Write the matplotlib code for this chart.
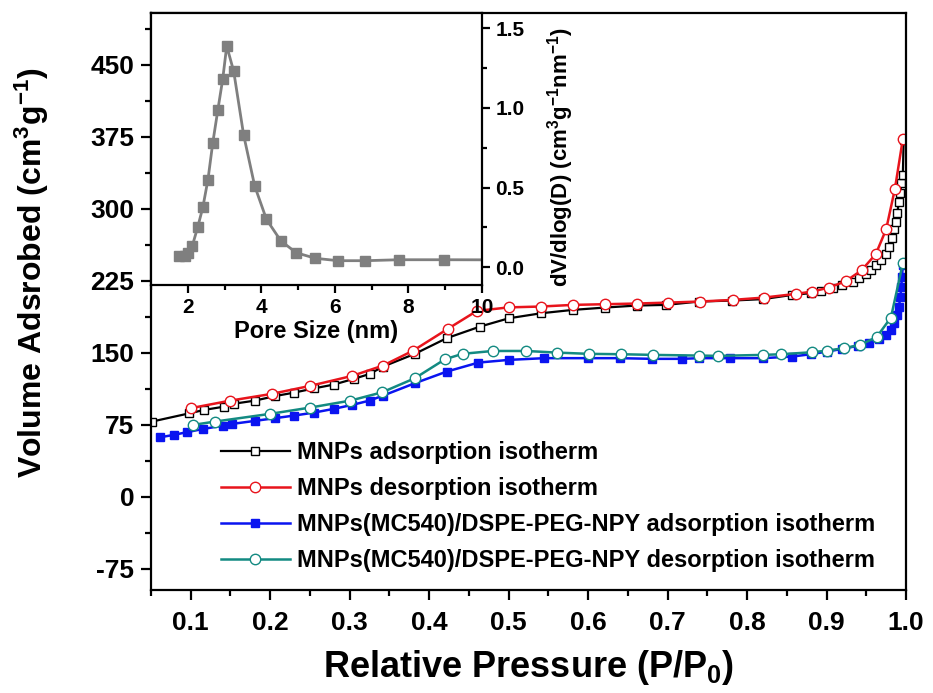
import matplotlib
matplotlib.use("Agg")
import matplotlib.pyplot as plt
from matplotlib.ticker import MultipleLocator

plt.rcParams['font.family'] = ['Liberation Sans', 'DejaVu Sans']
plt.rcParams['font.weight'] = 'bold'
plt.rcParams['mathtext.fontset'] = 'custom'
plt.rcParams['mathtext.rm'] = 'Liberation Sans:bold'
plt.rcParams['mathtext.it'] = 'Liberation Sans:bold'
plt.rcParams['mathtext.bf'] = 'Liberation Sans:bold'
plt.rcParams['mathtext.default'] = 'rm'
plt.rcParams['axes.linewidth'] = 1.6
plt.rcParams['axes.unicode_minus'] = False

# MNPs adsorption / desorption
mnp_ads_p = [0.051, 0.098, 0.117, 0.142, 0.154, 0.181, 0.206, 0.230, 0.255, 0.280,
             0.305, 0.325, 0.342, 0.382, 0.422, 0.464, 0.500, 0.541, 0.581, 0.621,
             0.661, 0.698, 0.740, 0.781, 0.820, 0.857, 0.880, 0.893, 0.908, 0.920,
             0.933, 0.941, 0.950, 0.956, 0.962, 0.968, 0.975, 0.978, 0.982, 0.985,
             0.988, 0.989, 0.991, 0.993, 0.994, 0.996, 0.997]
mnp_ads_v = [78.4, 87.0, 90.6, 94.0, 97.0, 100.3, 105.0, 108.6, 113.0, 117.0,
             122.9, 128.0, 135.7, 149.0, 165.3, 177.4, 186.0, 191.3, 194.8, 197.2,
             199.3, 200.0, 203.5, 204.5, 206.0, 210.4, 212.2, 214.6, 217.4, 220.8,
             224.3, 227.8, 232.3, 236.5, 241.7, 246.9, 253.0, 260.8, 269.4, 278.8,
             286.8, 295.5, 307.6, 316.3, 326.8, 335.4, 372.0]
mnp_des_p = [0.100, 0.150, 0.202, 0.250, 0.303, 0.342, 0.380, 0.424, 0.460, 0.500,
             0.541, 0.581, 0.621, 0.661, 0.701, 0.741, 0.782, 0.821, 0.862, 0.882,
             0.903, 0.924, 0.944, 0.962, 0.975, 0.986, 0.996]
mnp_des_v = [92.4, 100.3, 107.3, 115.6, 126.0, 136.8, 152.4, 175.3, 193.7, 197.4,
             198.3, 200.0, 200.7, 201.4, 202.4, 203.5, 205.2, 207.6, 211.5, 213.9,
             218.0, 224.6, 236.0, 253.0, 278.8, 320.8, 372.9]

# MNPs(MC540)/DSPE-PEG-NPY adsorption / desorption
npy_ads_p = [0.062, 0.079, 0.095, 0.116, 0.141, 0.152, 0.181, 0.206, 0.230, 0.255,
             0.280, 0.303, 0.325, 0.342, 0.382, 0.422, 0.462, 0.500, 0.545, 0.600,
             0.640, 0.680, 0.718, 0.740, 0.778, 0.820, 0.857, 0.880, 0.901, 0.920,
             0.939, 0.954, 0.966, 0.975, 0.981, 0.985, 0.989, 0.991, 0.993, 0.994,
             0.995, 0.996]
npy_ads_v = [62.2, 64.6, 67.4, 70.8, 74.3, 76.0, 79.2, 82.0, 84.7, 87.8,
             91.7, 95.8, 100.3, 105.5, 118.4, 130.5, 139.9, 142.7, 144.5, 144.5,
             144.5, 143.8, 143.8, 144.5, 144.5, 144.5, 146.2, 148.6, 151.4, 154.2,
             157.3, 160.1, 164.3, 168.8, 174.0, 181.0, 189.6, 198.2, 208.6, 219.0,
             229.5, 241.7]
npy_des_p = [0.103, 0.131, 0.200, 0.250, 0.301, 0.341, 0.382, 0.420, 0.442, 0.480,
             0.522, 0.561, 0.601, 0.642, 0.682, 0.740, 0.763, 0.820, 0.843, 0.882,
             0.901, 0.922, 0.942, 0.963, 0.981, 0.996]
npy_des_v = [75.0, 78.5, 86.5, 93.0, 100.3, 109.0, 123.6, 143.4, 149.0, 152.0,
             152.0, 150.3, 149.0, 148.6, 147.9, 147.2, 146.9, 147.9, 148.6, 150.7,
             152.4, 154.9, 158.3, 166.4, 186.8, 243.4]

# pore size distribution (inset)
pore_size = [1.77, 1.92, 2.02, 2.12, 2.27, 2.41, 2.55, 2.68, 2.82, 2.95, 3.06, 3.25,
             3.52, 3.82, 4.14, 4.53, 4.95, 5.47, 6.09, 6.83, 7.74, 8.97, 11.0]
pore_dv = [0.07, 0.07, 0.09, 0.13, 0.25, 0.375, 0.55, 0.78, 0.99, 1.18, 1.39, 1.23,
           0.83, 0.51, 0.30, 0.165, 0.09, 0.055, 0.04, 0.04, 0.046, 0.046, 0.045]

labels = ['MNPs adsorption isotherm', 'MNPs desorption isotherm',
          'MNPs(MC540)/DSPE-PEG-NPY adsorption isotherm',
          'MNPs(MC540)/DSPE-PEG-NPY desorption isotherm']
x_ticks = [0.1, 0.2, 0.3, 0.4, 0.5, 0.6, 0.7, 0.8, 0.9, 1.0]
inset_yticks = [0.0, 0.5, 1.0, 1.5]

fig = plt.figure(figsize=(9.33, 6.93), dpi=100)
ax = fig.add_axes([0.1618, 0.1486, 0.8093, 0.8326])

ax.plot(mnp_ads_p, mnp_ads_v, color='black', lw=1.6, marker='s', ms=6,
        mfc='white', mec='black', mew=1.0, label=labels[0])
ax.plot(mnp_des_p, mnp_des_v, color='#e8141c', lw=1.8, marker='o', ms=7.5,
        mfc='white', mec='#e8141c', mew=1.0, label=labels[1])
ax.plot(npy_ads_p, npy_ads_v, color='#0a14f0', lw=1.8, marker='s', ms=6,
        mfc='#0a14f0', mec='#0a14f0', mew=1.0, label=labels[2])
ax.plot(npy_des_p, npy_des_v, color='#138a82', lw=1.8, marker='o', ms=7.5,
        mfc='white', mec='#138a82', mew=1.0, label=labels[3])

ax.set_xticks(x_ticks)
ax.set_xticklabels(['%.1f' % t for t in x_ticks], fontsize=19, fontweight='bold')
ax.xaxis.set_minor_locator(MultipleLocator(0.05))
ax.yaxis.set_major_locator(MultipleLocator(75))
ax.yaxis.set_minor_locator(MultipleLocator(37.5))
ax.set_xlim(0.05, 1.0)
ax.set_ylim(-97, 504)
ax.tick_params(which='both', direction='out', width=1.6, top=False, right=False)
ax.tick_params(which='major', length=7)
ax.tick_params(which='minor', length=4)
ax.tick_params(axis='y', labelsize=19, pad=5)
ax.tick_params(axis='x', pad=8)
ax.set_ylabel('Volume Adsrobed (cm$^{3}$g$^{-1}$)', fontsize=23, fontweight='bold')
ax.yaxis.set_label_coords(-0.133, 0.55)
ax.set_xlabel('Relative Pressure (P/P$_{0}$)', fontsize=26, fontweight='bold')
ax.xaxis.set_label_coords(0.5, -0.1)

leg = ax.legend(loc='upper left', bbox_to_anchor=(0.093, 0.258), frameon=False,
                prop={'size': 17, 'weight': 'bold'},
                handlelength=2.9, handletextpad=0.3,
                labelspacing=0.55, borderpad=0, borderaxespad=0)

# inset: pore size distribution
ins = fig.add_axes([0.1618, 0.5887, 0.3548, 0.3925])
ins.plot(pore_size, pore_dv, color='#7f7f7f', lw=2, marker='s', ms=6.5,
         mfc='#7f7f7f', mec='#7f7f7f')
ins.xaxis.set_major_locator(MultipleLocator(2))
ins.xaxis.set_minor_locator(MultipleLocator(1))
ins.set_yticks(inset_yticks)
ins.set_yticklabels(['%.1f' % t for t in inset_yticks])
ins.yaxis.set_minor_locator(MultipleLocator(0.25))
ins.set_xlim(1, 10)
ins.set_ylim(-0.113, 1.597)
ins.yaxis.tick_right()
ins.yaxis.set_label_position('right')
ins.tick_params(which='both', direction='out', width=1.6, left=False, labelleft=False)
ins.tick_params(which='major', length=6, labelsize=15)
ins.tick_params(which='minor', length=3.5)
ins.set_xlabel('Pore Size (nm)', fontsize=17, fontweight='bold')
ins.xaxis.set_label_coords(0.5, -0.13)
ins.set_ylabel('dV/dlog(D) (cm$^{3}$g$^{-1}$nm$^{-1}$)', fontsize=16,
               fontweight='bold')
ins.yaxis.set_label_coords(1.19, 0.47)

fig.savefig('out.png', dpi=100)
